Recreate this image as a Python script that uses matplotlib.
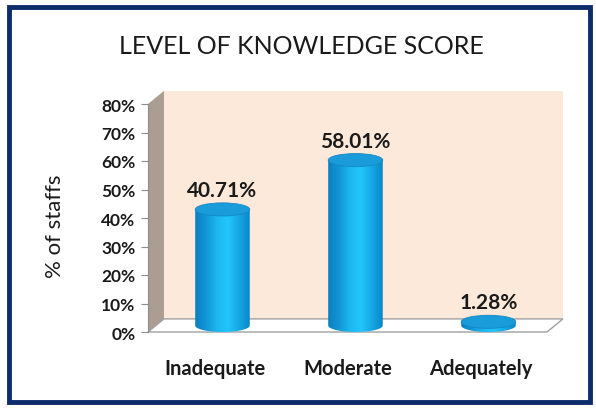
import numpy as np
import matplotlib
matplotlib.use("Agg")
import matplotlib.pyplot as plt
from matplotlib.patches import Polygon, Ellipse, PathPatch, Rectangle
from matplotlib.path import Path

categories = ["Inadequate", "Moderate", "Adequately"]
values = [40.71, 58.01, 1.28]
value_labels = ["40.71%", "58.01%", "1.28%"]
yticks = [0, 10, 20, 30, 40, 50, 60, 70, 80]
ytick_labels = ["0%", "10%", "20%", "30%", "40%", "50%", "60%", "70%", "80%"]
title = "LEVEL OF KNOWLEDGE SCORE"
ylabel = "% of staffs"

plt.rcParams["font.family"] = ["Lato", "DejaVu Sans"]

fig = plt.figure(figsize=(5.96, 4.10), dpi=100)
ax = fig.add_axes([148 / 596, 1 - 333 / 410, 399 / 596, 228 / 410])
xmin, xmax, ymax = -0.5, 2.5, 80
ax.set_xlim(xmin, xmax)
ax.set_ylim(0, ymax)

# depth of the fake 3d box, in data units
dx, dy = 0.12, 4.6

# back wall, side wall, floor
ax.add_patch(Polygon([(xmin + dx, dy), (xmax + dx, dy), (xmax + dx, ymax + dy), (xmin + dx, ymax + dy)],
                     closed=True, facecolor="#fde9da", edgecolor="none", clip_on=False, zorder=0))
ax.add_patch(Polygon([(xmin, 0), (xmin + dx, dy), (xmin + dx, ymax + dy), (xmin, ymax)],
                     closed=True, facecolor="#ab9d90", edgecolor="none", clip_on=False, zorder=1))
ax.add_patch(Polygon([(xmin, 0), (xmax, 0), (xmax + dx, dy), (xmin + dx, dy)],
                     closed=True, facecolor="white", edgecolor="#a0a0a0", lw=1, clip_on=False, zorder=1))

# cylinder bars
bw, eh = 0.41, 4.6
cmap = matplotlib.colors.LinearSegmentedColormap.from_list(
    "cyl", ["#0a7fbf", "#1296d6", "#1cb8f0", "#22c6fb", "#16a8e4", "#0a86c8"])
grad = np.linspace(0, 1, 200).reshape(1, -1)
for i, v in enumerate(values):
    cx = i + dx / 2
    base = dy / 2
    top = v + dy / 2
    x0, x1 = cx - bw / 2, cx + bw / 2
    t = np.linspace(np.pi, 2 * np.pi, 60)
    pts = [(cx + bw / 2 * np.cos(a), base + eh / 2 * np.sin(a)) for a in t]
    pts += [(x1, top), (x0, top), pts[0]]
    body = PathPatch(Path(pts), facecolor="none", edgecolor="none", transform=ax.transData)
    ax.add_patch(body)
    im = ax.imshow(grad, cmap=cmap, extent=[x0, x1, base - eh / 2, top], aspect="auto",
                   zorder=3, interpolation="bilinear")
    im.set_clip_path(body)
    ax.add_patch(Ellipse((cx, top), bw, eh, facecolor="#1a9cdb", edgecolor="#1488c4", lw=0.6, zorder=4))
    ax.annotate(value_labels[i], (cx, top + eh / 2), xytext=(0, 2), textcoords="offset points",
                ha="center", va="bottom", fontsize=15, fontweight="bold", color="#1a1a1a", zorder=5)

ax.set_xlim(xmin, xmax)
ax.set_ylim(0, ymax)

for s in ["top", "right", "bottom"]:
    ax.spines[s].set_visible(False)
ax.spines["left"].set_color("#8c8c8c")
ax.spines["left"].set_zorder(2)
ax.set_facecolor("none")
ax.set_yticks(yticks)
ax.set_yticklabels(ytick_labels, fontsize=12.5, fontweight="bold", color="#1a1a1a")
ax.tick_params(axis="y", length=5, color="#8c8c8c", pad=4)
ax.set_xticks(range(len(categories)))
ax.set_xticklabels(categories, fontsize=14.5, fontweight="bold", color="#1a1a1a")
ax.tick_params(axis="x", length=0, pad=19)
ax.set_ylabel(ylabel, fontsize=16, color="#1a1a1a")
ax.yaxis.set_label_coords(-0.208, 0.47)

fig.text(0.505, 1 - 47 / 410, title, ha="center", va="center", fontsize=18, color="#1a1a1a")
fig.patches.append(Rectangle((9 / 596, 7 / 410), 581 / 596, 395 / 410, transform=fig.transFigure,
                             fill=False, edgecolor="#0c2c6c", lw=3.5))

fig.savefig("out.png", dpi=100)
